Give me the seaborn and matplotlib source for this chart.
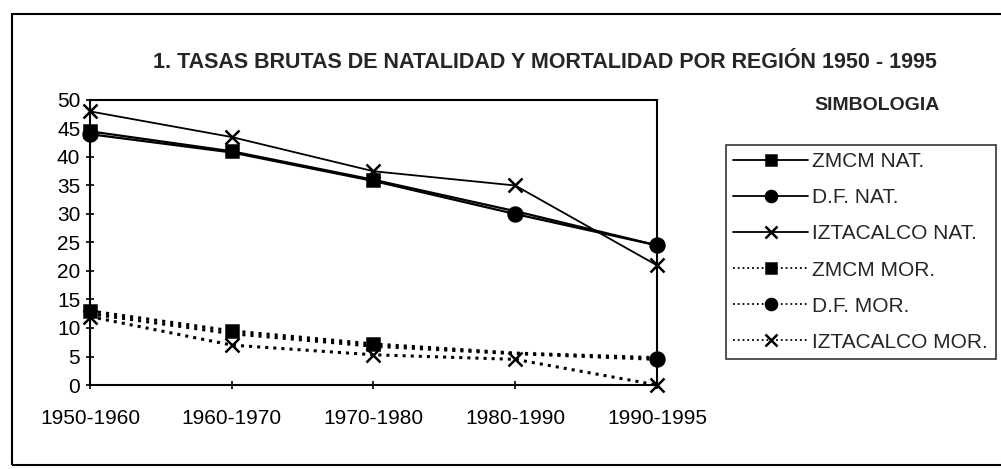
import matplotlib
matplotlib.use("Agg")
import matplotlib.pyplot as plt
import seaborn as sns
from matplotlib.patches import Rectangle

# Periods on the x axis
periodos = ["1950-1960", "1960-1970", "1970-1980", "1980-1990", "1990-1995"]

# Birth rates (natalidad)
zmcm_nat = [44.5, 41.0, 36.0, 30.5, 24.5]
df_nat = [44.0, 40.8, 35.8, 30.0, 24.5]
izta_nat = [48.0, 43.5, 37.5, 35.0, 21.0]

# Death rates (mortalidad)
zmcm_mor = [13.0, 9.5, 7.2, 5.6, 4.8]
df_mor = [12.5, 9.0, 6.8, 5.5, 4.5]
izta_mor = [12.0, 7.0, 5.3, 4.5, 0.0]

series_names = ["ZMCM NAT.", "D.F. NAT.", "IZTACALCO NAT.",
                "ZMCM MOR.", "D.F. MOR.", "IZTACALCO MOR."]
series_values = [zmcm_nat, df_nat, izta_nat, zmcm_mor, df_mor, izta_mor]


def setup_styles():
    sns.set_style("white")
    plt.rcParams["font.family"] = ["Liberation Sans", "DejaVu Sans"]


def main():
    setup_styles()
    fig = plt.figure(figsize=(10.01, 4.69), dpi=100)
    ax = fig.add_axes([0.0899, 0.1791, 0.5664, 0.6077])

    # markers that show through in the original (others are hidden by overlaps)
    styles = {
        "ZMCM NAT.": dict(marker="s", linestyle="-", lw=1.6, ms=9, every=[0, 1, 2]),
        "D.F. NAT.": dict(marker="o", linestyle="-", lw=1.6, ms=10, every=[0, 3, 4]),
        "IZTACALCO NAT.": dict(marker="x", linestyle="-", lw=1.3, ms=10, every=None),
        "ZMCM MOR.": dict(marker="s", linestyle=":", lw=2.2, ms=9, every=[0, 1, 2]),
        "D.F. MOR.": dict(marker="o", linestyle=":", lw=2.2, ms=10, every=[4]),
        "IZTACALCO MOR.": dict(marker="x", linestyle=":", lw=2.2, ms=10, every=None),
    }

    for name, vals in zip(series_names, series_values):
        st = styles[name]
        sns.lineplot(x=list(range(len(periodos))), y=vals, ax=ax, color="black",
                     marker=st["marker"], linestyle=st["linestyle"], linewidth=st["lw"],
                     markersize=st["ms"], markeredgewidth=1.8, markeredgecolor="black",
                     markerfacecolor="black", markevery=st["every"], label=name,
                     clip_on=False)

    ax.set_xlim(0, len(periodos) - 1)
    ax.set_ylim(0, 50)
    ax.set_xticks(range(len(periodos)))
    ax.set_xticklabels(periodos)
    ax.set_yticks(range(0, 51, 5))
    ax.tick_params(axis="both", labelsize=15, colors="black", direction="inout",
                   length=6, width=1.2, left=True, bottom=True)
    ax.tick_params(axis="x", pad=14)
    ax.tick_params(axis="y", pad=4)
    for sp in ax.spines.values():
        sp.set_visible(True)
        sp.set_color("black")
        sp.set_linewidth(1.5)
    ax.set_xlabel("")
    ax.set_ylabel("")

    handles, labels = ax.get_legend_handles_labels()
    ax.get_legend().remove()
    leg = fig.legend(handles, labels, loc="upper left",
                     bbox_to_anchor=(726 / 1001, 1 - 145 / 469),
                     frameon=True, fancybox=False, edgecolor="black",
                     fontsize=15, handlelength=3.6, handletextpad=0.2,
                     labelspacing=0.82, borderpad=0.35, borderaxespad=0,
                     markerscale=0.8)
    leg.get_frame().set_linewidth(1.2)
    # one marker in the middle of each legend sample, thinner sample lines
    for h in leg.legend_handles:
        h.set_markevery([1])
        h.set_linewidth(1.3)

    fig.text(545 / 1001, 1 - 63 / 469,
             "1. TASAS BRUTAS DE NATALIDAD Y MORTALIDAD POR REGIÓN 1950 - 1995",
             ha="center", va="center", fontsize=15.5, fontweight="bold")
    fig.text(877 / 1001, 1 - 105 / 469, "SIMBOLOGIA", ha="center", va="center",
             fontsize=14, fontweight="bold")

    # outer frame of the chart area
    fig.patches.append(Rectangle((12 / 1001, 1 - 465 / 469), 1.0, (465 - 14) / 469,
                                 transform=fig.transFigure, fill=False,
                                 edgecolor="black", linewidth=1.5))

    fig.savefig("out.png", dpi=100)
    plt.close(fig)


if __name__ == "__main__":
    main()
